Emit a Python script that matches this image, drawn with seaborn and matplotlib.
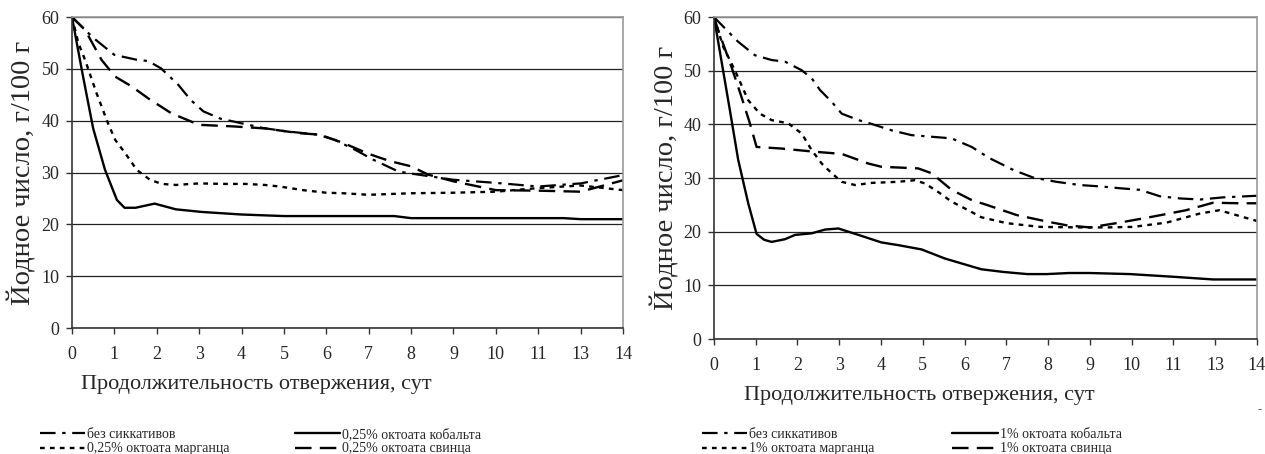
import matplotlib
matplotlib.use("Agg")
import matplotlib.pyplot as plt
import seaborn as sns
import pandas as pd
import numpy as np

# ---------------- data ----------------
x_labels = ["0", "1", "2", "3", "4", "5", "6", "7", "8", "9", "10", "11", "13", "14"]
y_ticks = [0, 10, 20, 30, 40, 50, 60]

# Left chart (0.25 %) -- x positions in category-index units
l_bez_x = [0, 0.5, 1, 1.5, 1.8, 2.1, 2.5, 2.8, 3.1, 3.5, 4, 4.5, 5, 5.8, 6.2, 6.7, 7.1, 7.7, 8, 9, 10, 11, 12, 13]
l_bez_y = [60, 56, 52.7, 51.8, 51.5, 50.1, 47, 44, 41.8, 40.4, 39.5, 38.6, 38, 37.3, 36.3, 34.3, 32.5, 30.2, 29.8, 28.6, 28.0, 27.3, 27.9, 29.5]

l_co_x = [0, 0.25, 0.5, 0.78, 1.06, 1.24, 1.5, 1.95, 2.45, 3.05, 4, 5, 6, 7, 7.6, 8, 9, 10, 11, 11.6, 12, 13]
l_co_y = [60, 49, 38.5, 30.5, 24.7, 23.2, 23.2, 24.0, 22.9, 22.4, 21.9, 21.6, 21.6, 21.6, 21.6, 21.2, 21.2, 21.2, 21.2, 21.2, 21.0, 21.0]

l_mn_x = [0, 0.15, 0.31, 0.58, 0.85, 1.02, 1.25, 1.53, 1.84, 2.12, 2.45, 3, 3.6, 4.1, 4.55, 4.9, 5.45, 6, 6.4, 7, 8, 9, 10, 11, 12, 13]
l_mn_y = [60, 55, 51.7, 45.3, 39.5, 36.3, 33.8, 30.5, 28.6, 27.8, 27.6, 27.9, 27.8, 27.8, 27.6, 27.3, 26.6, 26.1, 26.0, 25.7, 26.0, 26.1, 26.3, 27.0, 27.5, 26.6]

l_pb_x = [0, 0.31, 0.7, 1.02, 1.41, 1.8, 2.35, 3.0, 3.8, 4.56, 5.35, 5.85, 6.4, 7.0, 7.5, 8, 8.4, 9, 10, 11, 12, 13]
l_pb_y = [60, 57.5, 51.7, 48.5, 46.6, 44.3, 41.4, 39.2, 38.9, 38.5, 37.6, 37.3, 35.7, 33.6, 32.2, 31.2, 29.6, 28.3, 26.6, 26.5, 26.3, 28.5]

# Right chart (1 %)
r_bez_x = [0, 0.58, 0.98, 1.38, 1.7, 2.1, 2.34, 2.54, 2.82, 3.06, 3.46, 3.73, 4.25, 4.73, 5.37, 5.69, 6.17, 6.6, 7.17, 7.64, 8.2, 8.76, 9.32, 9.72, 10.2, 10.68, 11.16, 11.64, 12.19, 13]
r_bez_y = [60, 55.4, 52.9, 52.0, 51.7, 50.1, 48.6, 46.4, 44.2, 42.0, 40.8, 40.2, 38.9, 38.0, 37.6, 37.4, 35.8, 33.7, 31.5, 30.1, 29.3, 28.7, 28.4, 28.1, 27.8, 26.6, 26.2, 26.0, 26.4, 26.7]

r_co_x = [0, 0.38, 0.58, 0.82, 1.02, 1.2, 1.38, 1.7, 1.94, 2.34, 2.66, 2.98, 3.46, 4.01, 4.41, 4.97, 5.53, 6.4, 6.93, 7.5, 7.97, 8.5, 9.0, 9.96, 11, 11.95, 13]
r_co_y = [60, 42.7, 33.4, 25.3, 19.6, 18.5, 18.1, 18.6, 19.4, 19.7, 20.4, 20.6, 19.4, 18.0, 17.5, 16.7, 15.0, 13.0, 12.5, 12.1, 12.1, 12.3, 12.3, 12.1, 11.6, 11.1, 11.1]

r_mn_x = [0, 0.22, 0.5, 0.82, 1.1, 1.38, 1.78, 2.1, 2.34, 2.58, 2.82, 3.06, 3.38, 3.78, 4.41, 4.81, 5.05, 5.37, 5.69, 6.09, 6.4, 7.0, 7.8, 8.76, 9.4, 10.04, 10.84, 11.64, 12.1, 13]
r_mn_y = [60, 54.5, 50.1, 44.5, 42.0, 40.8, 40.2, 38.3, 35.2, 32.7, 30.9, 29.3, 28.7, 29.1, 29.3, 29.6, 29.0, 27.4, 25.6, 24.0, 22.7, 21.6, 20.9, 20.8, 20.8, 20.9, 21.7, 23.4, 24.0, 22.0]

r_pb_x = [0, 0.1, 0.42, 0.66, 0.86, 1.02, 1.62, 2.42, 3.06, 3.7, 4.01, 4.89, 5.21, 5.69, 6.17, 6.53, 7.25, 7.97, 8.44, 9.0, 9.72, 10.5, 11.3, 11.95, 12.6, 13]
r_pb_y = [60, 57.6, 50.7, 45.1, 40.2, 35.8, 35.5, 34.9, 34.5, 32.7, 32.1, 31.8, 30.9, 27.8, 25.9, 25.0, 23.1, 21.9, 21.2, 20.8, 21.7, 22.8, 24.0, 25.4, 25.3, 25.3]

left_names = ["без сиккативов", "0,25% октоата кобальта", "0,25% октоата марганца", "0,25% октоата свинца"]
right_names = ["без сиккативов", "1% октоата кобальта", "1% октоата марганца", "1% октоата свинца"]

x_title = "Продолжительность отвержения, сут"
y_title = "Йодное число, г/100 г"

# ---------------- style ----------------
sns.set_theme(style="white")
plt.rcParams["font.family"] = ["Liberation Serif", "DejaVu Serif"]

styles = [
    dict(ls=(0, (7, 3, 1.5, 3)), lw=1.6),   # без сиккативов : dash-dot
    dict(ls="-", lw=1.7),                   # кобальт : solid
    dict(ls=(0, (2, 2.2)), lw=1.7),         # марганец : dotted
    dict(ls=(0, (7, 3.5)), lw=1.7),         # свинец : long dash
]

W, H = 1265, 454
fig = plt.figure(figsize=(W / 100, H / 100), dpi=100)
ax_l = fig.add_axes([0.0569, 0.2775, 0.4356, 0.685])
ax_r = fig.add_axes([0.5644, 0.2533, 0.4292, 0.709])


def draw(ax, series, names, xlab_pos, ylab_x, leg_anchor, colspace):
    handles = []
    for (xs, ys), name, st in zip(series, names, styles):
        df = pd.DataFrame({"x": xs, "y": ys})
        sns.lineplot(data=df, x="x", y="y", ax=ax, color="black", sort=False,
                     estimator=None, linestyle=st["ls"], linewidth=st["lw"])
        handles.append(ax.lines[-1])
    ax.set_xlim(0, len(x_labels) - 1)
    ax.set_ylim(0, 60)
    ax.set_yticks(y_ticks)
    ax.set_yticklabels([str(v) for v in y_ticks], fontsize=13)
    ax.set_xticks(range(len(x_labels)))
    ax.set_xticklabels(x_labels, fontsize=13)
    ax.yaxis.grid(True, color="#222222", lw=0.9)
    ax.xaxis.grid(False)
    for s in ["top", "right"]:
        ax.spines[s].set_color("#9a9a9a")
        ax.spines[s].set_linewidth(1.2)
    for s in ["left", "bottom"]:
        ax.spines[s].set_color("#333333")
        ax.spines[s].set_linewidth(1.2)
    ax.tick_params(axis="x", which="major", direction="out", length=4,
                   width=1, color="#333333", bottom=True, pad=9)
    ax.tick_params(axis="y", which="major", direction="out", length=4,
                   width=1, color="#333333", left=True, pad=5)
    ax.set_xlabel(x_title, fontsize=16, va="center")
    ax.xaxis.set_label_coords(*xlab_pos)
    ax.set_ylabel(y_title, fontsize=20.5, va="center")
    ax.yaxis.set_label_coords(ylab_x, 0.5)
    order = [0, 2, 1, 3]
    fig.legend([handles[i] for i in order], [names[i] for i in order],
               ncol=2, loc="upper left", bbox_to_anchor=leg_anchor,
               bbox_transform=fig.transFigure,
               frameon=False, fontsize=10, handlelength=3.25,
               handletextpad=0.15, columnspacing=colspace, labelspacing=0.1,
               borderaxespad=0, borderpad=0)


left_series = [(l_bez_x, l_bez_y), (l_co_x, l_co_y), (l_mn_x, l_mn_y), (l_pb_x, l_pb_y)]
right_series = [(r_bez_x, r_bez_y), (r_co_x, r_co_y), (r_mn_x, r_mn_y), (r_pb_x, r_pb_y)]

draw(ax_l, left_series, left_names, (0.334, -0.183), -0.0907,
     (40 / W, 1 - 428 / H), 4.7)
draw(ax_r, right_series, right_names, (0.378, -0.174), -0.090,
     (702 / W, 1 - 428 / H), 5.6)

fig.text(1258 / W, 1 - 413 / H, "-", fontsize=9, color="#555555")

fig.savefig("out.png", dpi=100, facecolor="white")
